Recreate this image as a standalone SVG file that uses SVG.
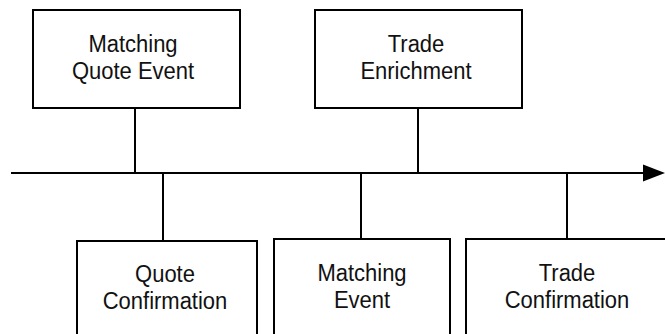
<svg xmlns="http://www.w3.org/2000/svg" width="665" height="334" viewBox="0 0 665 334">
<style>
.box{fill:#fff;stroke:#000;stroke-width:2}
.ln{stroke:#000;stroke-width:2;fill:none}
text{font-family:"Liberation Sans",Arial,sans-serif;font-size:22px;fill:#111;text-anchor:middle}
</style>
<rect width="665" height="334" fill="#fff"/>
<g id="connectors">
<line class="ln" x1="11" y1="173" x2="645" y2="173"/>
<polygon points="643,164.5 665,173 643,181.5" fill="#000"/>
<line class="ln" x1="135" y1="108" x2="135" y2="173"/>
<line class="ln" x1="418" y1="108" x2="418" y2="173"/>
<line class="ln" x1="163" y1="173" x2="163" y2="241"/>
<line class="ln" x1="361" y1="173" x2="361" y2="239"/>
<line class="ln" x1="567" y1="173" x2="567" y2="239"/>
</g>
<g id="matching-quote-event">
<rect class="box" x="33" y="10" width="207" height="98"/>
<text transform="translate(133,52) scale(1,1.1)">Matching</text>
<text transform="translate(133,79) scale(1,1.1)">Quote Event</text>
</g>
<g id="trade-enrichment">
<rect class="box" x="315" y="10" width="207" height="98"/>
<text transform="translate(416,52) scale(1,1.1)">Trade</text>
<text transform="translate(416,79) scale(1,1.1)">Enrichment</text>
</g>
<g id="quote-confirmation">
<rect class="box" x="77" y="241" width="180" height="110"/>
<text transform="translate(165,282) scale(1,1.1)">Quote</text>
<text transform="translate(165,309) scale(1,1.1)">Confirmation</text>
</g>
<g id="matching-event">
<rect class="box" x="274" y="239" width="176" height="110"/>
<text transform="translate(362,281) scale(1,1.1)">Matching</text>
<text transform="translate(362,308) scale(1,1.1)">Event</text>
</g>
<g id="trade-confirmation">
<rect class="box" x="466" y="239" width="202" height="110"/>
<text transform="translate(567,281) scale(1,1.1)">Trade</text>
<text transform="translate(567,308) scale(1,1.1)">Confirmation</text>
</g>
</svg>
